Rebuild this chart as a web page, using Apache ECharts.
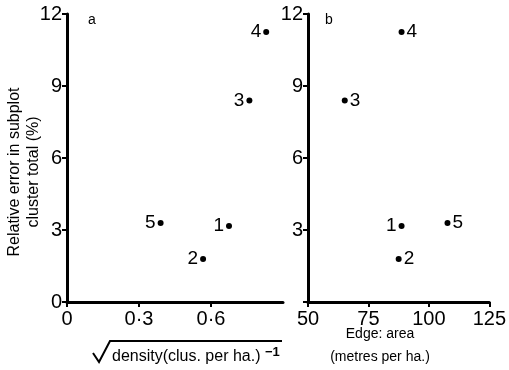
<!DOCTYPE html>
<html><head><meta charset="utf-8">
<script src="https://cdn.jsdelivr.net/npm/echarts@6/dist/echarts.min.js"></script>
<style>html,body{margin:0;padding:0;background:#fff}#c{width:509px;height:370px}</style>
</head><body><div id="c"></div>
<script>
// ---- data ----
const clusterIds = ['1', '2', '3', '4', '5'];
const relativeError = [3.17, 1.79, 8.4, 11.25, 3.29];       // % (y, both panels)
const invSqrtDensity = [0.675, 0.567, 0.76, 0.83, 0.39];    // panel a x
const edgeArea = [88.7, 87.5, 65.2, 88.7, 107.7];            // panel b x (metres per ha.)
const yTickValues = [0, 3, 6, 9, 12];
const yTickValuesB = [3, 6, 9, 12];
const xTickValuesA = [0, 0.3, 0.6];
const xTickValuesB = [50, 75, 100, 125];
const panelLetters = ['a', 'b'];

// ---- styling ----
const FONT = '"Liberation Sans", Arial, Helvetica, sans-serif';
const INK = '#000';
const labelsLeftInB = new Set(['1']);

const chart = echarts.init(document.getElementById('c'), null, { renderer: 'canvas' });

function axisCommon() {
  return {
    axisLine: { show: true, onZero: false, lineStyle: { color: INK, width: 3 } },
    axisTick: { show: true, length: 5, lineStyle: { color: INK, width: 2 } },
    splitLine: { show: false },
    axisLabel: { color: INK, fontFamily: FONT, fontSize: 20 }
  };
}
const fmtDot = v => String(v).replace('.', '·');

const xA = Object.assign(axisCommon(), { gridIndex: 0, type: 'value', min: 0, max: 0.9, interval: 0.3 });
xA.axisTick.customValues = xTickValuesA;
xA.axisLabel = Object.assign(xA.axisLabel, { customValues: xTickValuesA, formatter: fmtDot, margin: 7 });

const xB = Object.assign(axisCommon(), { gridIndex: 1, type: 'value', min: 50, max: 125, interval: 25 });
xB.axisTick.customValues = xTickValuesB;
xB.axisLabel = Object.assign(xB.axisLabel, { customValues: xTickValuesB, margin: 7 });

const yA = Object.assign(axisCommon(), { gridIndex: 0, type: 'value', min: 0, max: 12, interval: 3 });
yA.axisTick.customValues = yTickValues;
yA.axisLabel = Object.assign(yA.axisLabel, { customValues: yTickValues, margin: 5 });

const yB = Object.assign(axisCommon(), { gridIndex: 1, type: 'value', min: 0, max: 12, interval: 3 });
yB.axisTick.customValues = yTickValues;
yB.axisLabel = Object.assign(yB.axisLabel, { customValues: yTickValuesB, margin: 5 });

const pointLabel = { show: true, formatter: p => p.name, color: INK, fontFamily: FONT, fontSize: 19, distance: 2 };

const dataA = clusterIds.map((id, i) => ({ name: id, value: [invSqrtDensity[i], relativeError[i]] }));
const dataB = clusterIds.map((id, i) => ({
  name: id, value: [edgeArea[i], relativeError[i]],
  label: { position: labelsLeftInB.has(id) ? 'left' : 'right' }
}));

const option = {
  backgroundColor: '#fff',
  animation: false,
  grid: [
    { left: 67, top: 14, width: 216, height: 288 },
    { left: 308, top: 14, width: 182, height: 288 }
  ],
  xAxis: [xA, xB],
  yAxis: [yA, yB],
  series: [
    { type: 'scatter', xAxisIndex: 0, yAxisIndex: 0, symbol: 'circle', symbolSize: 6,
      itemStyle: { color: INK, opacity: 1 }, label: Object.assign({}, pointLabel, { position: 'left' }), data: dataA },
    { type: 'scatter', xAxisIndex: 1, yAxisIndex: 1, symbol: 'circle', symbolSize: 6,
      itemStyle: { color: INK, opacity: 1 }, label: Object.assign({}, pointLabel, { position: 'right' }), data: dataB }
  ],
  graphic: [
    { type: 'text', left: 88, top: 13, style: { text: panelLetters[0], font: '14px ' + FONT, fill: INK } },
    { type: 'text', left: 325, top: 13, style: { text: panelLetters[1], font: '14px ' + FONT, fill: INK } },
    { type: 'text', x: 24, y: 172, rotation: Math.PI / 2,
      style: { text: 'Relative error in subplot\ncluster total (%)', font: '16px ' + FONT, fill: INK,
               align: 'center', verticalAlign: 'middle', lineHeight: 19 } },
    { type: 'polyline', shape: { points: [[93, 353], [99, 362], [110, 341], [282, 341]] },
      style: { stroke: INK, lineWidth: 2, fill: null } },
    { type: 'text', x: 112, y: 357,
      style: { text: 'density(clus. per ha.)', font: '16px ' + FONT, fill: INK, align: 'left', verticalAlign: 'middle' } },
    { type: 'text', x: 265, y: 352,
      style: { text: '−1', font: 'bold 13px ' + FONT, fill: INK, align: 'left', verticalAlign: 'middle' } },
    { type: 'text', x: 380, y: 334,
      style: { text: 'Edge: area', font: '14px ' + FONT, fill: INK, align: 'center', verticalAlign: 'middle' } },
    { type: 'text', x: 380, y: 357,
      style: { text: '(metres per ha.)', font: '14px ' + FONT, fill: INK, align: 'center', verticalAlign: 'middle' } }
  ]
};
chart.setOption(option);
</script></body></html>
